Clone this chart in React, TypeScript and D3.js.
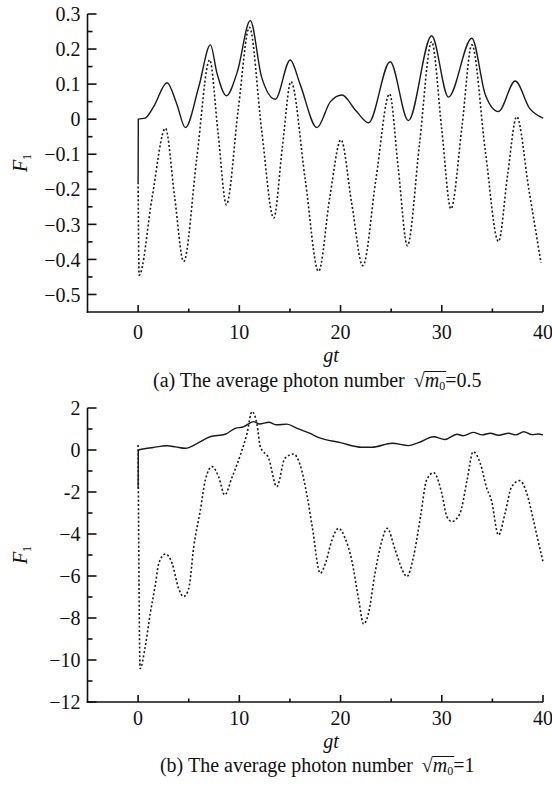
import React, { useEffect, useRef } from 'react';
import * as d3 from 'd3';

// ---------- data ----------
const xTicks = [0, 10, 20, 30, 40];
const xTickLabels = ['0', '10', '20', '30', '40'];
const xMinorTicks = [5, 15, 25, 35];

const topYTicks = [0.3, 0.2, 0.1, 0, -0.1, -0.2, -0.3, -0.4, -0.5];
const topYTickLabels = ['0.3', '0.2', '0.1', '0', '−0.1', '−0.2', '−0.3', '−0.4', '−0.5'];
const topYMinor = [0.25, 0.15, 0.05, -0.05, -0.15, -0.25, -0.35, -0.45];

const botYTicks = [2, 0, -2, -4, -6, -8, -10, -12];
const botYTickLabels = ['2', '0', '-2', '−4', '−6', '−8', '−10', '−12'];
const botYMinor = [1, -1, -3, -5, -7, -9, -11];

// panel (a): sqrt(m0)=0.5
const topSolid: [number, number][] = [
  [0, -0.18], [0.02, 0], [0.7, 0.003], [1.54, 0.036], [2.86, 0.104], [3.8, 0.045],
  [4.67, -0.024], [6.0, 0.093], [7.14, 0.212], [7.8, 0.13], [8.72, 0.067], [9.8, 0.135],
  [11.08, 0.281], [12.2, 0.12], [13.55, 0.057], [15.03, 0.169], [16.0, 0.1], [17.67, -0.024],
  [19.0, 0.05], [20.14, 0.069], [21.5, 0.025], [22.77, -0.01], [24.9, 0.164], [26.7, -0.004],
  [29.0, 0.238], [30.66, 0.063], [32.97, 0.231], [34.3, 0.07], [35.6, 0.022], [37.25, 0.109],
  [38.7, 0.03], [40, 0.003],
];
const topDotted: [number, number][] = [
  [0, -0.18], [0.1, -0.445], [1.4, -0.22], [2.7, -0.026], [3.6, -0.22], [4.5, -0.406],
  [5.8, -0.11], [7.07, 0.169], [7.9, -0.04], [8.72, -0.244], [9.9, 0.03], [11.0, 0.262],
  [12.2, -0.03], [13.4, -0.282], [14.25, -0.08], [15.1, 0.107], [16.5, -0.17], [17.83, -0.434],
  [18.95, -0.22], [20.04, -0.059], [21.1, -0.24], [22.2, -0.418], [23.5, -0.17], [24.84, 0.072],
  [25.7, -0.14], [26.6, -0.361], [27.8, -0.07], [29.0, 0.221], [30.0, -0.03], [30.9, -0.256],
  [32.0, -0.02], [32.97, 0.212], [34.3, -0.09], [35.6, -0.349], [36.5, -0.16], [37.4, 0.007],
  [38.6, -0.2], [39.8, -0.41],
];

// panel (b): sqrt(m0)=1
const botSolid: [number, number][] = [
  [0, -1.83], [0.02, 0], [1.5, 0.12], [2.86, 0.2], [3.7, 0.15], [4.67, 0.08], [5.8, 0.3],
  [7.1, 0.63], [8.6, 0.75], [9.6, 1.03], [10.4, 1.1], [11.4, 1.35], [12.0, 1.24], [12.9, 1.32],
  [13.7, 1.2], [14.7, 1.23], [15.7, 1.03], [17.0, 0.79], [17.8, 0.6], [20.0, 0.35], [22.1, 0.13],
  [23.1, 0.13], [25.1, 0.32], [26.7, 0.21], [27.7, 0.35], [29.2, 0.63], [30.3, 0.5], [31.5, 0.75],
  [32.1, 0.68], [33.1, 0.84], [34.0, 0.72], [34.8, 0.8], [35.6, 0.7], [36.6, 0.8], [37.3, 0.72],
  [38.1, 0.87], [38.9, 0.73], [39.5, 0.76], [40.0, 0.72],
];
const botDotted: [number, number][] = [
  [0, 0.24], [0.2, -10.4], [0.7, -9.37], [1.2, -7.78], [1.7, -6.43], [2.04, -5.4], [2.7, -4.95],
  [3.36, -5.4], [4.0, -6.59], [4.5, -6.98], [5.0, -6.6], [5.5, -4.6], [6.15, -2.86], [6.64, -1.43],
  [7.3, -0.79], [7.97, -1.3], [8.55, -2.14], [9.28, -1.3], [10.1, -0.24], [10.76, 0.79],
  [11.25, 1.83], [11.75, 1.2], [12.07, 0.16], [12.9, -0.4], [13.7, -1.75], [14.5, -0.4],
  [15.36, -0.19], [16.0, -0.7], [16.7, -2.2], [17.2, -3.65], [18.0, -5.87], [18.5, -5.4],
  [19.15, -4.29], [19.8, -3.73], [20.45, -4.2], [21.1, -5.24], [21.8, -7.14], [22.27, -8.29],
  [22.75, -7.8], [23.4, -5.87], [24.1, -4.29], [24.6, -3.73], [25.4, -4.76], [26.1, -5.71],
  [26.55, -6.03], [27.2, -5.1], [27.9, -3.17], [28.5, -1.43], [29.2, -1.08], [30.0, -2.06],
  [30.5, -3.17], [31.0, -3.41], [31.8, -3.02], [32.5, -1.43], [33.1, -0.08], [33.8, -0.63],
  [34.45, -1.83], [34.9, -2.38], [35.6, -4.05], [36.25, -3.02], [36.9, -1.75], [37.7, -1.46],
  [38.4, -2.06], [39.05, -3.33], [39.5, -4.29], [40.0, -5.32],
];

const FONT = "'Liberation Serif', 'Times New Roman', serif";
const INK = '#111';

type Panel = {
  top: number;
  bottom: number;
  yDomain: [number, number];
  yTicks: number[];
  yLabels: string[];
  yMinor: number[];
  solid: [number, number][];
  dotted: [number, number][];
  tickLabelY: number;
  gtY: number;
  captionY: number;
  captionPrefix: string;
  captionValue: string;
};

export default function App() {
  const ref = useRef<SVGSVGElement | null>(null);

  useEffect(() => {
    const svg = d3.select(ref.current);
    svg.selectAll('*').remove();
    const left = 87.5;
    const right = 543;
    const x = d3.scaleLinear().domain([-5, 40]).range([left, right]);

    const panels: Panel[] = [
      {
        top: 14, bottom: 312, yDomain: [-0.55, 0.3], yTicks: topYTicks, yLabels: topYTickLabels,
        yMinor: topYMinor, solid: topSolid, dotted: topDotted, tickLabelY: 339, gtY: 362,
        captionY: 387, captionPrefix: '(a) The average photon number', captionValue: '=0.5',
      },
      {
        top: 408, bottom: 702, yDomain: [-12, 2], yTicks: botYTicks, yLabels: botYTickLabels,
        yMinor: botYMinor, solid: botSolid, dotted: botDotted, tickLabelY: 725, gtY: 748,
        captionY: 772, captionPrefix: '(b) The average photon number', captionValue: '=1',
      },
    ];

    panels.forEach((p) => {
      const y = d3.scaleLinear().domain(p.yDomain).range([p.bottom, p.top]);
      const g = svg.append('g');

      // axes lines
      g.append('line').attr('x1', left).attr('x2', left).attr('y1', p.top).attr('y2', p.bottom + 0.8)
        .attr('stroke', INK).attr('stroke-width', 1.6);
      g.append('line').attr('x1', left - 0.8).attr('x2', right).attr('y1', p.bottom).attr('y2', p.bottom)
        .attr('stroke', INK).attr('stroke-width', 1.6);

      // y ticks
      p.yTicks.forEach((v, i) => {
        g.append('line').attr('x1', left).attr('x2', left + 9).attr('y1', y(v)).attr('y2', y(v))
          .attr('stroke', INK).attr('stroke-width', 1.6);
        g.append('text').attr('x', left - 7).attr('y', y(v)).attr('dy', '0.36em')
          .attr('text-anchor', 'end').attr('font-family', FONT).attr('font-size', 20)
          .attr('fill', INK).text(p.yLabels[i]);
      });
      p.yMinor.forEach((v) => {
        g.append('line').attr('x1', left).attr('x2', left + 5).attr('y1', y(v)).attr('y2', y(v))
          .attr('stroke', INK).attr('stroke-width', 1.6);
      });

      // x ticks
      xTicks.forEach((v, i) => {
        g.append('line').attr('x1', x(v)).attr('x2', x(v)).attr('y1', p.bottom).attr('y2', p.bottom - 7)
          .attr('stroke', INK).attr('stroke-width', 1.6);
        g.append('text').attr('x', x(v)).attr('y', p.tickLabelY).attr('text-anchor', 'middle')
          .attr('font-family', FONT).attr('font-size', 20).attr('fill', INK).text(xTickLabels[i]);
      });
      xMinorTicks.forEach((v) => {
        g.append('line').attr('x1', x(v)).attr('x2', x(v)).attr('y1', p.bottom).attr('y2', p.bottom - 3.5)
          .attr('stroke', INK).attr('stroke-width', 1.6);
      });

      // curves
      const line = d3.line<[number, number]>()
        .x((d) => x(d[0]))
        .y((d) => y(d[1]))
        .curve(d3.curveMonotoneX);
      g.append('path').attr('d', line(p.solid) as string).attr('fill', 'none')
        .attr('stroke', '#1a1a1a').attr('stroke-width', 1.4);
      g.append('path').attr('d', line(p.dotted) as string).attr('fill', 'none')
        .attr('stroke', '#1a1a1a').attr('stroke-width', 1.6).attr('stroke-dasharray', '2 2.2');

      // y label F1
      const cy = (p.top + p.bottom) / 2;
      const yl = g.append('text').attr('transform', `translate(27,${cy}) rotate(-90)`)
        .attr('text-anchor', 'middle').attr('font-family', FONT).attr('font-size', 20).attr('fill', INK);
      yl.append('tspan').attr('font-style', 'italic').text('F');
      yl.append('tspan').attr('font-size', 12).attr('dy', 4).text('1');

      // x label gt
      g.append('text').attr('x', 331).attr('y', p.gtY).attr('text-anchor', 'middle')
        .attr('font-family', FONT).attr('font-size', 20).attr('font-style', 'italic')
        .attr('fill', INK).text('gt');

      // caption
      const cg = g.append('g');
      let cx = 0;
      const add = (txt: string, size: number, italic: boolean, dy: number) => {
        const t = cg.append('text').attr('x', cx).attr('y', p.captionY + dy)
          .attr('font-family', FONT).attr('font-size', size).attr('fill', INK)
          .attr('font-style', italic ? 'italic' : 'normal').text(txt);
        const w = (t.node() as SVGTextElement).getComputedTextLength();
        cx += w;
      };
      add(p.captionPrefix, 20, false, 0);
      cx += 9;
      add('√', 20, false, 0);
      const barStart = cx - 0.5;
      add('m', 20, true, 0);
      add('0', 12, false, 3);
      const barEnd = cx + 1;
      add(p.captionValue, 20, false, 0);
      cg.append('line').attr('x1', barStart).attr('x2', barEnd)
        .attr('y1', p.captionY - 15.5).attr('y2', p.captionY - 15.5)
        .attr('stroke', INK).attr('stroke-width', 1);
      const center = (left + right) / 2 + 2;
      cg.attr('transform', `translate(${center - cx / 2},0)`);
    });
  }, []);

  return (
    <svg
      ref={ref}
      width={552}
      height={788}
      style={{ position: 'absolute', left: 0, top: 0, background: '#fff' }}
    />
  );
}
